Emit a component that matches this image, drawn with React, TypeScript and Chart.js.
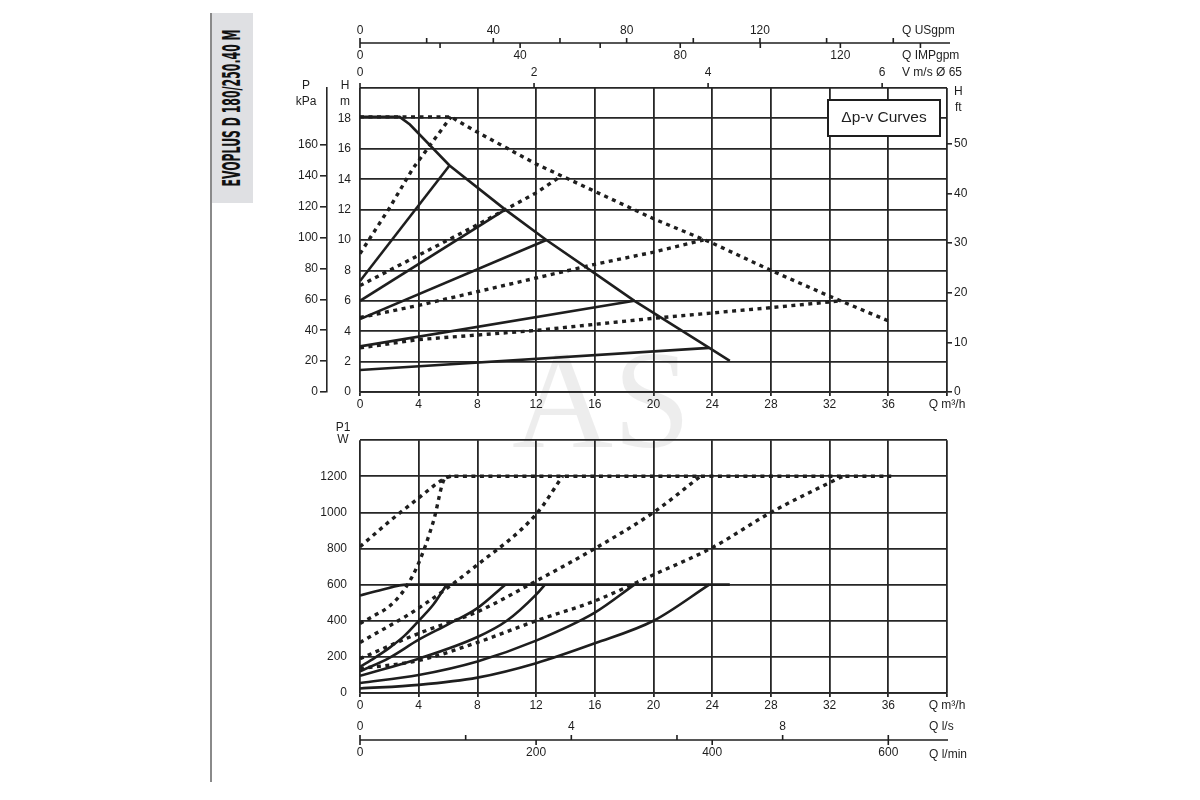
import { useEffect, useRef } from "react";
import { Chart, registerables } from "chart.js";

Chart.register(...registerables);

const INK = "#1e1e1e";
const GRID = "#262626";
const FONT = '"Liberation Sans", Arial, sans-serif';

// shared flow axis, m3/h
const flowMax = 40;
const flowStep = 4;

// head panel, [Q m3/h, H m]
const headMaxSolid: [number, number][] = [[0, 18.1], [2.7, 18.1], [3.4, 17.6], [6.1, 14.9], [9.9, 12.0], [12.7, 10.0], [16, 7.8], [18.7, 6.0], [20, 5.2], [23.8, 2.9], [25.2, 2.05]];
const headSolid1: [number, number][] = [[0, 7.3], [6.1, 14.9]];
const headSolid2: [number, number][] = [[0, 6.0], [9.9, 12.0]];
const headSolid3: [number, number][] = [[0, 4.8], [12.7, 10.0]];
const headSolid4: [number, number][] = [[0, 3.0], [18.7, 6.0]];
const headSolid5: [number, number][] = [[0, 1.45], [23.8, 2.9]];
const headMaxDotted: [number, number][] = [[0, 18.1], [6.2, 18.1], [7.8, 17.2], [9.9, 16.1], [12, 15.0], [16, 13.2], [20, 11.4], [24, 9.8], [28, 8.0], [32, 6.3], [36.2, 4.6]];
const headDotted1: [number, number][] = [[0, 9.1], [2, 12.1], [3.6, 14.7], [4.9, 16.4], [6.2, 18.1]];
const headDotted2: [number, number][] = [[0, 7.0], [4, 9.0], [8, 11.0], [12, 13.1], [13.7, 14.2]];
const headDotted3: [number, number][] = [[0, 4.9], [4, 5.7], [8, 6.6], [12, 7.5], [16, 8.4], [20, 9.2], [23.4, 10.0]];
const headDotted4: [number, number][] = [[0, 2.9], [4, 3.45], [8, 3.75], [12, 4.05], [16, 4.45], [20, 4.85], [24, 5.2], [28, 5.55], [32.8, 6.0]];

// power panel, [Q m3/h, P1 W]
const powerMaxSolid: [number, number][] = [[0, 540], [1.5, 572], [3.2, 600], [25.2, 600]];
const powerSolid1: [number, number][] = [[0, 145], [1, 195], [2, 250], [3, 315], [4, 400], [5, 490], [5.9, 600]];
const powerSolid2: [number, number][] = [[0, 120], [2, 195], [4, 295], [6, 380], [8, 470], [9.9, 600]];
const powerSolid3: [number, number][] = [[0, 95], [4, 190], [8, 310], [10, 400], [12, 545], [12.6, 600]];
const powerSolid4: [number, number][] = [[0, 55], [4, 100], [8, 175], [12, 290], [16, 445], [18.7, 600]];
const powerSolid5: [number, number][] = [[0, 25], [4, 45], [8, 85], [12, 165], [16, 275], [20, 400], [23.8, 600]];
const powerMaxDotted: [number, number][] = [[0, 810], [2, 950], [4, 1080], [5.7, 1185], [6.2, 1200], [36.2, 1200]];
const powerDotted1: [number, number][] = [[0, 385], [1, 430], [2, 480], [3, 570], [4, 720], [5, 950], [5.8, 1190], [6.2, 1200]];
const powerDotted2: [number, number][] = [[0, 280], [4, 470], [8, 710], [12, 990], [13.8, 1200]];
const powerDotted3: [number, number][] = [[0, 190], [4, 330], [8, 450], [12, 620], [16, 800], [20, 1000], [23.2, 1200]];
const powerDotted4: [number, number][] = [[0, 135], [4, 180], [8, 280], [12, 400], [16, 510], [20, 655], [24, 805], [28, 1000], [32, 1165], [32.9, 1200]];

// secondary unit axes
const headMax = 20;
const kpaPerMetre = 9.85;
const ftPerMetre = 3.06;
const kpaTicks = [0, 20, 40, 60, 80, 100, 120, 140, 160];
const ftTicks = [0, 10, 20, 30, 40, 50];
const powerMax = 1400;
const usgpmPerFlow = 4.403;
const usgpmTicks = [0, 20, 40, 60, 80, 100, 120, 140, 160];
const usgpmLabels = [0, 40, 80, 120];
const impgpmPerFlow = 3.666;
const impgpmTicks = [0, 20, 40, 60, 80, 100, 120, 140];
const impgpmLabels = [0, 40, 80, 120];
const flowPerVelocity = 5.93;
const velocityLabels = [0, 2, 4, 6];
const flowPerLps = 3.6;
const lpsTicks = [0, 2, 4, 6, 8, 10];
const lpsLabels = [0, 4, 8];
const flowPerLpm = 0.06;
const lpmTicks = [0, 200, 400, 600];

const font = (size = 12) => ({ family: FONT, size });

function series(pts: [number, number][], dotted: boolean, smooth: boolean) {
  return {
    data: pts.map(([x, y]) => ({ x, y })),
    showLine: true,
    borderColor: INK,
    borderWidth: dotted ? 3.4 : 2.6,
    borderDash: dotted ? [4, 4.5] : [],
    borderCapStyle: "butt" as const,
    pointRadius: 0,
    tension: 0,
    cubicInterpolationMode: smooth ? ("monotone" as const) : ("default" as const),
    fill: false,
  };
}

function flowScale() {
  return {
    type: "linear" as const,
    min: 0,
    max: flowMax,
    position: "bottom" as const,
    ticks: {
      stepSize: flowStep,
      autoSkip: false,
      maxRotation: 0,
      padding: 1,
      color: INK,
      font: font(12),
      callback: (v: any) => (v === flowMax ? "Q m³/h" : String(v)),
    },
    grid: { color: GRID, lineWidth: 1.8, tickLength: 4 },
    border: { display: true, color: GRID, width: 1.8 },
    afterFit: (s: any) => {
      s.height = 20;
    },
  };
}

function line(ctx: CanvasRenderingContext2D, x1: number, y1: number, x2: number, y2: number) {
  ctx.beginPath();
  ctx.moveTo(x1, y1);
  ctx.lineTo(x2, y2);
  ctx.stroke();
}

function text(ctx: CanvasRenderingContext2D, s: string, x: number, y: number, align: CanvasTextAlign = "center") {
  ctx.textAlign = align;
  ctx.textBaseline = "middle";
  ctx.fillText(s, x, y);
}

const headExtras = {
  id: "headExtras",
  afterDraw(chart: any) {
    const { ctx, chartArea } = chart;
    const px = (q: number) => chart.scales.x.getPixelForValue(q);
    const top = chartArea.top;
    const right = chartArea.right;
    ctx.save();
    ctx.strokeStyle = INK;
    ctx.fillStyle = INK;
    ctx.lineWidth = 1.6;
    ctx.font = `12px ${FONT}`;

    // USgpm above / IMPgpm below one line
    const axisY = top - 45;
    line(ctx, px(0), axisY, px(flowMax) + 3, axisY);
    usgpmTicks.forEach((g) => line(ctx, px(g / usgpmPerFlow), axisY, px(g / usgpmPerFlow), axisY - 5));
    usgpmLabels.forEach((g) => text(ctx, String(g), px(g / usgpmPerFlow), top - 57));
    impgpmTicks.forEach((g) => line(ctx, px(g / impgpmPerFlow), axisY, px(g / impgpmPerFlow), axisY + 5));
    impgpmLabels.forEach((g) => text(ctx, String(g), px(g / impgpmPerFlow), top - 32));

    // velocity on the chart top
    velocityLabels.forEach((v) => {
      line(ctx, px(v * flowPerVelocity), top, px(v * flowPerVelocity), top - 5);
      text(ctx, String(v), px(v * flowPerVelocity), top - 15);
    });

    text(ctx, "Q USgpm", right - 45, top - 57, "left");
    text(ctx, "Q IMPgpm", right - 45, top - 32, "left");
    text(ctx, "V m/s Ø 65", right - 45, top - 15, "left");

    text(ctx, "P", chartArea.left - 54, top - 2);
    text(ctx, "kPa", chartArea.left - 54, top + 14);
    text(ctx, "H", chartArea.left - 15, top - 2);
    text(ctx, "m", chartArea.left - 15, top + 14);
    text(ctx, "H", right + 7, top + 4, "left");
    text(ctx, "ft", right + 8, top + 20, "left");

    // legend box
    ctx.fillStyle = "#fff";
    ctx.fillRect(right - 119, top + 12, 112, 36);
    ctx.lineWidth = 2;
    ctx.strokeRect(right - 119, top + 12, 112, 36);
    ctx.fillStyle = INK;
    ctx.font = `15.5px ${FONT}`;
    text(ctx, "Δp-v Curves", right - 63, top + 30);
    ctx.restore();
  },
};

const powerExtras = {
  id: "powerExtras",
  afterDraw(chart: any) {
    const { ctx, chartArea } = chart;
    const px = (q: number) => chart.scales.x.getPixelForValue(q);
    const bottom = chartArea.bottom;
    ctx.save();
    ctx.strokeStyle = INK;
    ctx.fillStyle = INK;
    ctx.lineWidth = 1.6;
    ctx.font = `12px ${FONT}`;

    text(ctx, "P1", chartArea.left - 17, chartArea.top - 13);
    text(ctx, "W", chartArea.left - 17, chartArea.top - 1);

    // l/s above / l/min below one line
    const axisY = bottom + 47;
    line(ctx, px(0), axisY, px(flowMax) + 1, axisY);
    lpsTicks.forEach((s) => line(ctx, px(s * flowPerLps), axisY, px(s * flowPerLps), axisY - 5));
    lpsLabels.forEach((s) => text(ctx, String(s), px(s * flowPerLps), bottom + 34));
    lpmTicks.forEach((m) => {
      line(ctx, px(m * flowPerLpm), axisY, px(m * flowPerLpm), axisY + 5);
      text(ctx, String(m), px(m * flowPerLpm), bottom + 60);
    });
    text(ctx, "Q l/s", chartArea.right - 18, bottom + 34, "left");
    text(ctx, "Q l/min", chartArea.right - 18, bottom + 62, "left");
    ctx.restore();
  },
};

function headConfig(): any {
  return {
    type: "scatter",
    data: {
      datasets: [
        series(headMaxSolid, false, false),
        series(headSolid1, false, false),
        series(headSolid2, false, false),
        series(headSolid3, false, false),
        series(headSolid4, false, false),
        series(headSolid5, false, false),
        series(headMaxDotted, true, false),
        series(headDotted1, true, false),
        series(headDotted2, true, false),
        series(headDotted3, true, false),
        series(headDotted4, true, false),
      ],
    },
    options: {
      responsive: false,
      animation: false,
      events: [],
      layout: { padding: { top: 88, bottom: 8, left: 0, right: 18 } },
      plugins: { legend: { display: false }, tooltip: { enabled: false } },
      scales: {
        x: flowScale(),
        y: {
          type: "linear",
          min: 0,
          max: headMax,
          position: "left",
          weight: 0,
          ticks: { stepSize: 2, autoSkip: false, padding: 9, color: INK, font: font(12), callback: (v: any) => (v === headMax ? "" : String(v)) },
          grid: { color: GRID, lineWidth: 1.8, drawTicks: false },
          border: { display: false },
          afterFit: (s: any) => {
            s.width = 33;
          },
        },
        kpa: {
          type: "linear",
          min: 0,
          max: headMax * kpaPerMetre,
          position: "left",
          weight: 1,
          afterBuildTicks: (s: any) => {
            s.ticks = kpaTicks.map((value) => ({ value }));
          },
          ticks: { autoSkip: false, padding: 2, color: INK, font: font(12) },
          grid: { drawOnChartArea: false, color: GRID, lineWidth: 1.6, tickLength: 7 },
          border: { display: true, color: GRID, width: 1.6 },
          afterFit: (s: any) => {
            s.width = 57;
          },
        },
        ft: {
          type: "linear",
          min: 0,
          max: headMax * ftPerMetre,
          position: "right",
          afterBuildTicks: (s: any) => {
            s.ticks = ftTicks.map((value) => ({ value }));
          },
          ticks: { autoSkip: false, padding: 2, color: INK, font: font(12) },
          grid: { drawOnChartArea: false, color: GRID, lineWidth: 1.6, tickLength: 5 },
          border: { display: false },
          afterFit: (s: any) => {
            s.width = 35;
          },
        },
      },
    },
    plugins: [headExtras],
  };
}

function powerConfig(): any {
  return {
    type: "scatter",
    data: {
      datasets: [
        series(powerMaxSolid, false, true),
        series(powerSolid1, false, true),
        series(powerSolid2, false, true),
        series(powerSolid3, false, true),
        series(powerSolid4, false, true),
        series(powerSolid5, false, true),
        series(powerMaxDotted, true, true),
        series(powerDotted1, true, true),
        series(powerDotted2, true, true),
        series(powerDotted3, true, true),
        series(powerDotted4, true, true),
      ],
    },
    options: {
      responsive: false,
      animation: false,
      events: [],
      layout: { padding: { top: 19, bottom: 87, left: 0, right: 53 } },
      plugins: { legend: { display: false }, tooltip: { enabled: false } },
      scales: {
        x: flowScale(),
        y: {
          type: "linear",
          min: 0,
          max: powerMax,
          position: "left",
          ticks: { stepSize: 200, autoSkip: false, padding: 13, color: INK, font: font(12), callback: (v: any) => (v === powerMax ? "" : String(v)) },
          grid: { color: GRID, lineWidth: 1.8, drawTicks: false },
          border: { display: false },
          afterFit: (s: any) => {
            s.width = 90;
          },
        },
      },
    },
    plugins: [powerExtras],
  };
}

function Panel({ config, left, top, width, height }: { config: () => any; left: number; top: number; width: number; height: number }) {
  const canvasRef = useRef<HTMLCanvasElement>(null);

  useEffect(() => {
    if (!canvasRef.current) return;
    const chart = new Chart(canvasRef.current, config());
    return () => {
      chart.destroy();
    };
  }, [config]);

  return <canvas ref={canvasRef} width={width} height={height} style={{ position: "absolute", left, top, width, height }} />;
}

export default function App() {
  return (
    <div style={{ position: "fixed", left: 0, top: 0, width: 1200, height: 800, background: "#fff", overflow: "hidden" }}>
      <svg width={1200} height={800} style={{ position: "absolute", left: 0, top: 0 }}>
        <text x={512} y={447} fontFamily='"Liberation Serif", serif' fontSize={140} fill="#000" fillOpacity={0.07}>
          AS
        </text>
        <line x1={211} y1={13} x2={211} y2={782} stroke="#8a8a8a" strokeWidth={2} />
        <rect x={212} y={13} width={41} height={190} fill="#dfe0e3" />
        <text
          transform="translate(240,108) rotate(-90)"
          textAnchor="middle"
          fontFamily='"DejaVu Sans Condensed", "Liberation Sans Narrow", sans-serif'
          fontWeight="bold"
          fontSize={24}
          fill="#111"
          textLength={157}
          lengthAdjust="spacingAndGlyphs"
        >
          EVOPLUS D 180/250.40 M
        </text>
      </svg>
      <Panel config={headConfig} left={270} top={0} width={730} height={420} />
      <Panel config={powerConfig} left={270} top={420} width={730} height={380} />
    </div>
  );
}
